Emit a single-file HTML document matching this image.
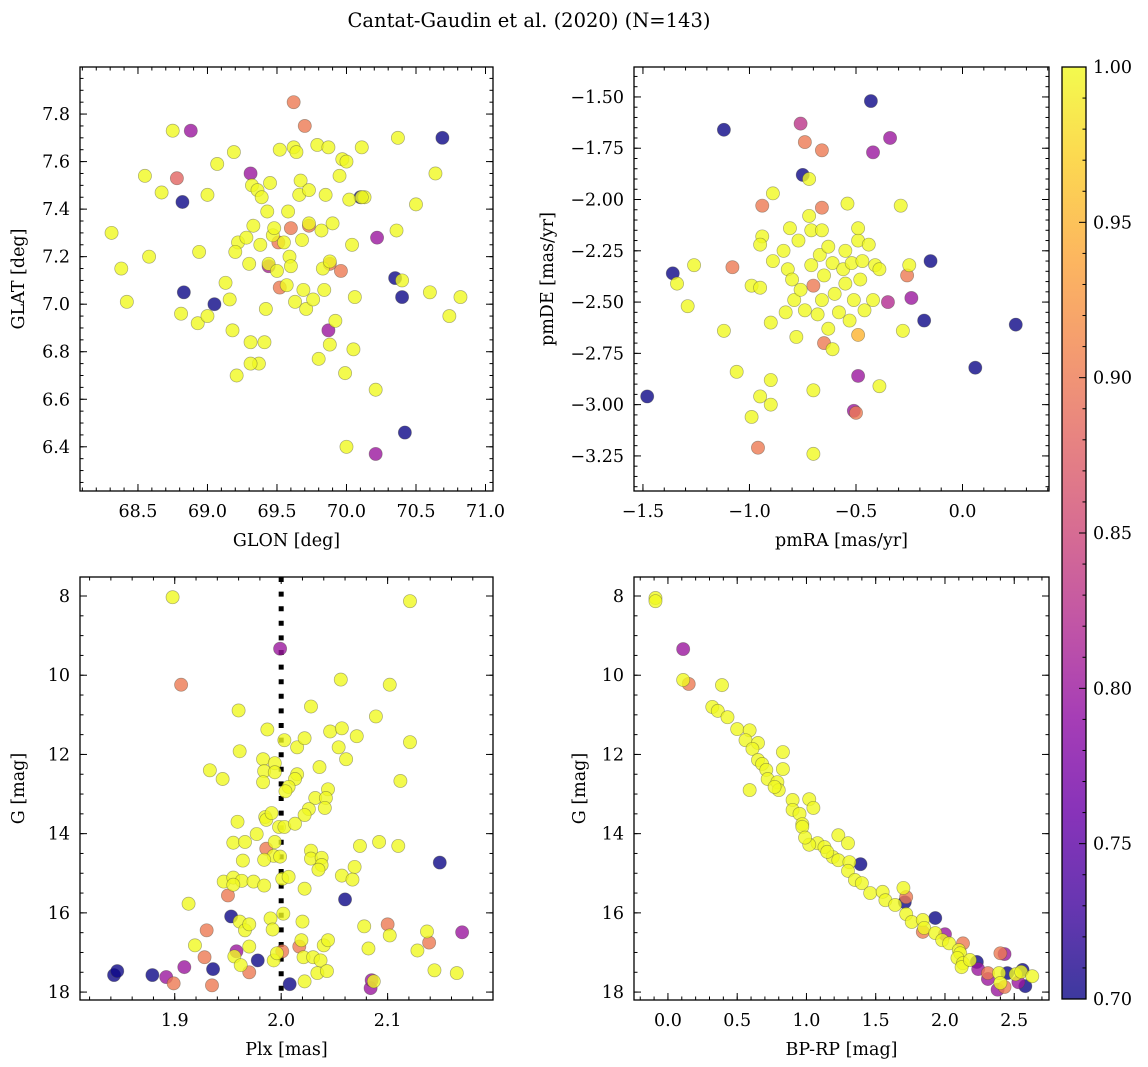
<!DOCTYPE html>
<html><head><meta charset="utf-8"><style>
html,body{margin:0;padding:0;background:#fff;}
svg{display:block;font-family:"DejaVu Serif","Liberation Serif",serif;}
</style></head><body>
<svg id="fig" width="1148" height="1067" viewBox="0 0 1148 1067" xmlns="http://www.w3.org/2000/svg">
<defs>
<linearGradient id="plasma" x1="0" y1="1" x2="0" y2="0">
<stop offset="0" stop-color="#0d0887"/><stop offset="0.1" stop-color="#41049d"/><stop offset="0.2" stop-color="#6a00a8"/><stop offset="0.3" stop-color="#8f0da4"/><stop offset="0.4" stop-color="#b12a90"/><stop offset="0.5" stop-color="#cc4778"/><stop offset="0.6" stop-color="#e16462"/><stop offset="0.7" stop-color="#f2844b"/><stop offset="0.8" stop-color="#fca636"/><stop offset="0.9" stop-color="#fcce25"/><stop offset="1" stop-color="#f0f921"/>
</linearGradient>
</defs>
<text x="529" y="27" font-size="19.5" text-anchor="middle">Cantat-Gaudin et al. (2020) (N=143)</text>
</svg>
<script>
// ---- Panel 1: GLON vs GLAT ----
const tlGlon=[70.69,68.82,68.83,69.05,70.35,70.40,70.42,70.10,
68.88,69.31,69.44,69.87,70.22,70.21,
68.78,69.62,69.70,69.60,69.73,69.51,69.88,69.96,69.52,
68.31,68.38,68.42,68.55,68.58,68.67,68.75,68.81,68.94,68.93,69.0,69.07,69.0,69.13,69.16,69.19,69.18,69.21,69.22,69.2,69.28,69.30,69.33,69.32,69.36,69.37,69.31,69.38,69.39,69.41,69.42,69.43,69.45,69.47,69.48,69.44,69.50,69.55,69.57,69.52,69.58,69.59,69.60,69.62,69.64,69.63,69.66,69.67,69.68,69.69,69.71,69.73,69.73,69.76,69.79,69.80,69.82,69.83,69.84,69.85,69.87,69.88,69.88,69.90,69.92,69.95,69.97,69.99,70.0,70.04,70.06,70.05,70.11,70.13,70.02,70.0,70.21,70.36,70.37,70.40,70.50,70.60,70.64,70.74,70.82,70.11,69.31];
const tlGlat=[7.70,7.43,7.05,7.00,7.11,7.03,6.46,7.45,
7.73,7.55,7.16,6.89,7.28,6.37,
7.53,7.85,7.75,7.32,7.33,7.26,7.17,7.14,7.07,
7.30,7.15,7.01,7.54,7.20,7.47,7.73,6.96,7.22,6.92,7.46,7.59,6.95,7.09,7.02,7.64,6.89,6.70,7.26,7.22,7.28,7.17,7.33,7.50,7.48,6.75,6.84,7.25,7.45,6.84,6.98,7.39,7.51,7.29,7.32,7.17,7.14,7.26,7.08,7.65,7.39,7.20,7.16,7.66,7.64,7.01,7.46,7.52,7.27,7.06,6.98,7.34,7.48,7.02,7.67,6.77,7.31,7.15,7.06,7.46,7.66,6.83,7.18,7.34,6.93,7.54,7.61,6.71,7.60,7.25,7.03,6.81,7.66,7.45,7.44,6.40,6.64,7.31,7.70,7.10,7.42,7.05,7.55,6.95,7.03,7.45,6.75];
const tlProb=[0.7,0.7,0.7,0.7,0.7,0.7,0.7,0.7,
0.8,0.8,0.81,0.8,0.8,0.8,
0.88,0.9,0.9,0.9,0.9,0.9,0.9,0.9,0.9];
// ---- Panel 2: pmRA vs pmDE ----
const trPmra=[-0.43,-1.12,-0.75,-1.36,-0.15,-0.18,-1.48,0.25,0.06,
-0.42,-0.34,-0.24,-0.49,-0.51,-0.76,-0.35,
-0.74,-0.66,-0.94,-0.66,-1.08,-0.26,-0.65,-0.49,-0.50,-0.96,-0.70,
-1.34,-1.29,-1.12,-1.06,-0.99,-0.95,-0.9,-0.9,-0.89,-0.94,-0.95,-0.99,-0.95,-0.9,-0.89,-0.84,-0.82,-0.8,-0.79,-0.78,-0.77,-0.76,-0.74,-0.72,-0.72,-0.71,-0.71,-0.7,-0.7,-0.68,-0.67,-0.66,-0.66,-0.65,-0.63,-0.63,-0.61,-0.6,-0.58,-0.56,-0.55,-0.55,-0.54,-0.53,-0.52,-0.51,-0.49,-0.49,-0.48,-0.47,-0.46,-0.44,-0.42,-0.41,-0.39,-0.39,-0.28,-0.29,-0.25,-1.26,-0.83,-0.81,-0.61];
const trPmde=[-1.52,-1.66,-1.88,-2.36,-2.30,-2.59,-2.96,-2.61,-2.82,
-1.77,-1.70,-2.48,-2.86,-3.03,-1.63,-2.50,
-1.72,-1.76,-2.03,-2.04,-2.33,-2.37,-2.70,-2.66,-3.04,-3.21,-2.42,
-2.41,-2.52,-2.64,-2.84,-3.06,-2.96,-3.0,-2.88,-1.97,-2.18,-2.22,-2.42,-2.43,-2.60,-2.30,-2.25,-2.34,-2.39,-2.49,-2.67,-2.20,-2.44,-2.54,-1.90,-2.08,-2.15,-2.32,-3.24,-2.93,-2.56,-2.27,-2.15,-2.49,-2.37,-2.63,-2.23,-2.31,-2.46,-2.55,-2.34,-2.25,-2.41,-2.02,-2.59,-2.31,-2.49,-2.20,-2.14,-2.39,-2.30,-2.54,-2.22,-2.49,-2.32,-2.34,-2.91,-2.64,-2.03,-2.32,-2.32,-2.55,-2.14,-2.73];
const trProb=[0.7,0.7,0.7,0.7,0.7,0.7,0.7,0.7,0.7,
0.8,0.8,0.8,0.8,0.8,0.83,0.82,
0.9,0.9,0.9,0.9,0.9,0.9,0.9,0.95,0.9,0.9,0.9];
// ---- Panel 3: Plx vs G ----
const blPlx=[1.843,1.846,1.879,1.936,1.953,1.978,2.008,2.060,2.149,
1.892,1.909,1.958,2.084,2.085,2.170,1.999,
1.899,1.930,1.928,1.935,1.950,1.970,2.001,2.017,2.100,2.139,1.906,1.986,
1.913,1.919,1.961,1.966,1.970,1.970,1.956,1.962,1.990,1.992,1.993,1.996,2.002,2.020,2.019,2.021,2.022,2.030,2.034,2.037,2.040,2.043,2.044,2.078,2.082,2.102,2.128,2.137,2.144,2.165,2.087,1.898,2.121,2.056,2.102,1.960,2.028,2.089,1.987,2.046,2.057,2.071,2.003,2.015,2.022,2.054,2.061,2.121,1.961,1.983,1.994,1.984,1.994,1.933,1.945,1.983,2.015,2.013,2.036,2.007,2.004,2.044,2.032,2.042,2.041,2.026,2.022,2.112,1.959,1.985,1.986,1.991,1.998,2.003,2.013,1.977,1.955,1.966,1.994,1.993,1.984,1.999,1.964,2.028,2.028,2.038,2.038,2.035,2.074,2.092,2.110,2.069,2.057,2.067,1.946,1.955,1.963,1.974,1.955,1.984,2.001,2.007,2.022];
const blG=[17.57,17.47,17.57,17.42,16.09,17.20,17.80,15.66,14.73,
17.62,17.37,16.97,17.90,17.70,16.49,9.33,
17.78,16.44,17.12,17.83,15.56,17.50,16.97,16.85,16.29,16.75,10.24,14.38,
15.77,16.82,16.22,16.44,16.29,16.85,17.10,17.32,16.14,16.42,17.20,17.02,16.02,16.22,16.69,17.12,17.73,17.12,17.52,17.20,16.82,17.47,16.69,16.34,16.90,16.57,16.95,16.47,17.45,17.52,17.73,8.03,8.13,10.11,10.24,10.89,10.79,11.04,11.37,11.42,11.34,11.54,11.64,11.82,11.59,11.82,12.12,11.69,11.92,12.12,12.22,12.42,12.45,12.40,12.62,12.70,12.50,12.62,12.32,12.82,12.93,12.88,13.10,13.10,13.35,13.38,13.53,12.67,13.70,13.58,13.65,13.48,13.83,13.83,13.75,14.01,14.23,14.21,14.21,14.56,14.66,14.58,14.68,14.43,14.63,14.61,14.79,14.91,14.31,14.21,14.31,14.84,15.06,15.16,15.21,15.11,15.19,15.21,15.29,15.31,15.14,15.09,15.39];
const blProb=[0.7,0.7,0.7,0.7,0.7,0.7,0.7,0.7,0.7,
0.8,0.8,0.8,0.8,0.8,0.8,0.8,
0.9,0.9,0.9,0.9,0.9,0.9,0.9,0.9,0.9,0.9,0.9,0.9];
// ---- Panel 4: BP-RP vs G ----
const brBpRp=[1.39,1.71,1.93,2.23,2.45,2.56,2.58,
0.11,2.0,2.24,2.31,2.43,2.38,2.53,
0.15,1.72,1.84,2.13,2.31,2.40,2.43,
-0.09,-0.09,0.11,0.39,0.32,0.36,0.43,0.50,0.59,0.56,0.65,0.61,0.65,0.68,0.71,0.72,0.79,0.80,0.77,0.83,0.83,0.59,0.90,1.02,1.05,0.90,0.95,0.97,0.97,1.08,1.13,1.23,1.30,1.19,1.23,1.31,1.30,1.35,1.40,1.46,1.55,1.57,1.64,1.70,1.72,1.76,1.84,1.85,1.93,1.98,2.03,2.10,2.11,2.09,2.13,2.12,2.18,2.39,2.40,2.51,2.55,2.63,1.15,1.02,0.99];
const brG=[14.77,15.73,16.13,17.24,17.52,17.44,17.85,
9.34,16.54,17.42,17.67,17.04,17.94,17.75,
10.22,15.60,16.48,16.77,17.52,17.02,17.87,
8.05,8.13,10.12,10.25,10.80,10.90,11.06,11.36,11.39,11.64,11.71,11.86,12.14,12.24,12.39,12.62,12.70,12.90,12.82,11.94,12.37,12.90,13.15,13.13,13.35,13.40,13.50,13.76,13.83,14.24,14.34,14.04,14.24,14.59,14.67,14.72,14.94,15.17,15.25,15.50,15.47,15.68,15.80,15.37,16.03,16.23,16.18,16.38,16.51,16.69,16.77,16.94,17.02,17.14,17.27,17.37,17.19,17.52,17.77,17.55,17.49,17.60,14.46,14.28,14.10];
const brProb=[0.7,0.7,0.7,0.7,0.7,0.7,0.7,
0.8,0.8,0.8,0.8,0.8,0.8,0.8,
0.9,0.9,0.9,0.9,0.9,0.9,0.9];
// ---- Colorbar ----
const cbTicks=[0.70,0.75,0.80,0.85,0.90,0.95,1.00];
const cbRange=[0.7,1.0];

const NS="http://www.w3.org/2000/svg";
const fig=document.getElementById('fig');
function mk(tag,attrs,parent){const e=document.createElementNS(NS,tag);for(const k in attrs)e.setAttribute(k,attrs[k]);(parent||fig).appendChild(e);return e;}
const stops=[[0,[13,8,135]],[0.1,[65,4,157]],[0.2,[106,0,168]],[0.3,[143,13,164]],[0.4,[177,42,144]],[0.5,[204,71,120]],[0.6,[225,100,98]],[0.7,[242,132,75]],[0.8,[252,166,54]],[0.9,[252,206,37]],[1,[240,249,33]]];
function plasma(v){v=Math.max(0,Math.min(1,v));for(let i=1;i<stops.length;i++){if(v<=stops[i][0]){const a=stops[i-1],b=stops[i];const t=(v-a[0])/(b[0]-a[0]);const c=a[1].map((x,j)=>Math.round(x+(b[1][j]-x)*t));return 'rgb('+c.join(',')+')';}}return 'rgb(240,249,33)';}
function fmt(v,d){const s=Math.abs(v).toFixed(d);return (v<-1e-9?'\u2212':'')+s;}

function panel(o){
  const g=mk('g',{});
  
  
  const sx=v=>o.x0+(v-o.xl[0])/(o.xl[1]-o.xl[0])*(o.x1-o.x0);
  const sy=v=>o.y0+(v-o.yl[0])/(o.yl[1]-o.yl[0])*(o.y1-o.y0);
  const tg=mk('g',{stroke:'#000','stroke-width':1},g);
  function ticksX(step,len){const a=Math.ceil(Math.min(...o.xl)/step-1e-6),b=Math.floor(Math.max(...o.xl)/step+1e-6);for(let i=a;i<=b;i++){const x=sx(i*step);mk('line',{x1:x,x2:x,y1:o.y1,y2:o.y1-len},tg);mk('line',{x1:x,x2:x,y1:o.y0,y2:o.y0+len},tg);}}
  function ticksY(step,len){const a=Math.ceil(Math.min(...o.yl)/step-1e-6),b=Math.floor(Math.max(...o.yl)/step+1e-6);for(let i=a;i<=b;i++){const y=sy(i*step);mk('line',{x1:o.x0,x2:o.x0+len,y1:y,y2:y},tg);mk('line',{x1:o.x1,x2:o.x1-len,y1:y,y2:y},tg);}}
  ticksX(o.xmin,3.5);ticksX(o.xmaj,7);ticksY(o.ymin,3.5);ticksY(o.ymaj,7);
  {const a=Math.ceil(Math.min(...o.xl)/o.xmaj-1e-6),b=Math.floor(Math.max(...o.xl)/o.xmaj+1e-6);
   for(let i=a;i<=b;i++){const t=mk('text',{x:sx(i*o.xmaj),y:o.y1+26,'font-size':17.5,'text-anchor':'middle'},g);
    
    
    t.textContent=fmt(i*o.xmaj,o.xd);}}
  {const a=Math.ceil(Math.min(...o.yl)/o.ymaj-1e-6),b=Math.floor(Math.max(...o.yl)/o.ymaj+1e-6);
   for(let i=a;i<=b;i++){const t=mk('text',{x:o.x0-10,y:sy(i*o.ymaj)+6,'font-size':17.5,'text-anchor':'end'},g);
    
    
    t.textContent=fmt(i*o.ymaj,o.yd);}}
  const xt=mk('text',{x:(o.x0+o.x1)/2,y:o.y1+55,'font-size':17.5,'text-anchor':'middle'},g);
  
  
  xt.textContent=o.xlabel;
  const yt=mk('text',{x:0,y:0,'font-size':17.5,'text-anchor':'middle',transform:'translate('+o.ylx+','+(o.y0+o.y1)/2+') rotate(-90)'},g);
  
  
  yt.textContent=o.ylabel;
  const cid='clip'+o.name;
  const cp=mk('clipPath',{id:cid},g);mk('rect',{x:o.x0,y:o.y0,width:o.x1-o.x0,height:o.y1-o.y0},cp);
  const pg=mk('g',{'clip-path':'url(#'+cid+')'},g);
  if(o.vline!==undefined){const l=mk('line',{x1:sx(o.vline),x2:sx(o.vline),y1:o.y0,y2:o.y1,stroke:'#000','stroke-width':5,'stroke-dasharray':'5 9.6'},pg);
    
    }
  const n=o.xs.length;
  for(let i=0;i<n;i++){const p=(i<o.ps.length)?o.ps[i]:1.0;
    const c=mk('circle',{cx:sx(o.xs[i]),cy:sy(o.ys[i]),r:6.6,fill:plasma((p-cbRange[0])/(cbRange[1]-cbRange[0])),'fill-opacity':0.8,stroke:'#4a4a3a','stroke-opacity':0.45,'stroke-width':0.7},pg);
    
    }
  const fr=mk('rect',{x:o.x0,y:o.y0,width:o.x1-o.x0,height:o.y1-o.y0,fill:'none',stroke:'#000','stroke-width':1.3},g);
  
  
}
panel({name:'panel-glon-glat',x0:80,x1:493,y0:67,y1:491,xl:[68.083,71.054],yl:[7.998,6.214],xmaj:0.5,xmin:0.1,ymaj:0.2,ymin:0.05,xd:1,yd:1,xlabel:'GLON [deg]',ylabel:'GLAT [deg]',ylx:24,xs:tlGlon,ys:tlGlat,ps:tlProb});
panel({name:'panel-pm',x0:634,x1:1049,y0:67,y1:491,xl:[-1.542,0.406],yl:[-1.354,-3.421],xmaj:0.5,xmin:0.1,ymaj:0.25,ymin:0.05,xd:1,yd:2,xlabel:'pmRA [mas/yr]',ylabel:'pmDE [mas/yr]',ylx:553,xs:trPmra,ys:trPmde,ps:trProb});
panel({name:'panel-plx-g',x0:80,x1:493,y0:577,y1:1000,xl:[1.811,2.199],yl:[7.52,18.2],xmaj:0.1,xmin:0.02,ymaj:2,ymin:0.5,xd:1,yd:0,xlabel:'Plx [mas]',ylabel:'G [mag]',ylx:24,xs:blPlx,ys:blG,ps:blProb,vline:2.0});
panel({name:'panel-cmd',x0:634,x1:1049,y0:577,y1:1000,xl:[-0.245,2.751],yl:[7.52,18.2],xmaj:0.5,xmin:0.1,ymaj:2,ymin:0.5,xd:1,yd:0,xlabel:'BP-RP [mag]',ylabel:'G [mag]',ylx:585,xs:brBpRp,ys:brG,ps:brProb});

(function(){
  const x0=1062,x1=1086,y0=67,y1=999;
  const g=mk('g',{});
  
  
  mk('rect',{x:x0,y:y0,width:x1-x0,height:y1-y0,fill:'url(#plasma)','fill-opacity':0.8},g);
  const sy=v=>y1-(v-cbRange[0])/(cbRange[1]-cbRange[0])*(y1-y0);
  for(let v=0;v<=30;v++){const y=sy(cbRange[0]+v*0.01);const maj=v%5===0;mk('line',{x1:x1,x2:x1-(maj?7:3.5),y1:y,y2:y,stroke:'#000','stroke-width':1},g);}
  cbTicks.forEach(v=>{const t=mk('text',{x:x1+7,y:sy(v)+6,'font-size':17.5},g);
    
    
    t.textContent=v.toFixed(2);});
  mk('rect',{x:x0,y:y0,width:x1-x0,height:y1-y0,fill:'none',stroke:'#000','stroke-width':1.3},g);
})();
</script>
</body></html>
